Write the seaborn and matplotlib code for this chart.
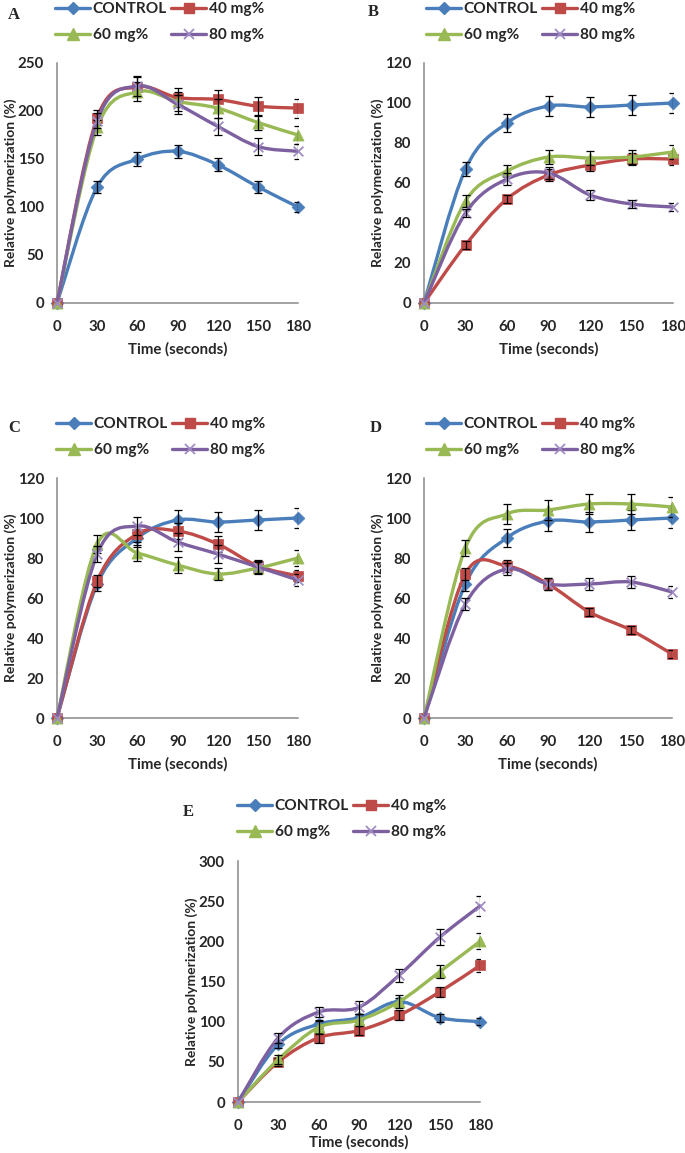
import numpy as np
import matplotlib
matplotlib.use("Agg")
import matplotlib.pyplot as plt
from matplotlib.path import Path
from matplotlib.patches import PathPatch
from matplotlib.lines import Line2D
import seaborn as sns

#------------------------------ data ------------------------------
times = [0, 30, 60, 90, 120, 150, 180]
series_names = ["CONTROL", "40 mg%", "60 mg%", "80 mg%"]

# panel A
A_ctrl = [0, 121, 150, 158, 144, 121, 100]
A_40 = [0, 193, 225, 214, 212, 205, 203]
A_60 = [0, 183, 220, 210, 203, 188, 175]
A_80 = [0, 190, 226, 207, 184, 163, 158]
A_ctrl_err = [0, 6, 7, 7, 7, 6, 5]
A_40_err = [0, 8, 10, 10, 10, 10, 10]
A_60_err = [0, 8, 10, 10, 10, 8, 9]
A_80_err = [0, 8, 10, 10, 9, 9, 8]

# panel B
B_ctrl = [0, 67, 90, 98.5, 98, 99, 100]
B_40 = [0, 29, 52, 64, 69, 72, 72]
B_60 = [0, 51, 66, 73, 72.5, 73, 75.5]
B_80 = [0, 45, 62, 65, 54, 49.5, 48]
B_ctrl_err = [0, 3.5, 4.5, 5, 5, 5, 5]
B_40_err = [0, 2, 2, 3, 3, 3, 3]
B_60_err = [0, 3, 3, 3.5, 3.5, 3.5, 3.5]
B_80_err = [0, 2, 3, 3, 2.5, 2, 2]

# panel C
C_ctrl = [0, 67, 90, 99, 98, 99, 100]
C_40 = [0, 68.5, 92, 93.5, 87, 76, 71]
C_60 = [0, 87, 82.5, 76.5, 72, 75, 80]
C_80 = [0, 82, 96, 88, 82, 75.5, 69]
C_ctrl_err = [0, 3.5, 4.5, 5, 5, 5, 5]
C_40_err = [0, 3, 4, 4, 4, 3, 3]
C_60_err = [0, 4.5, 4, 4, 3, 3, 4]
C_80_err = [0, 4, 4.5, 4.5, 4.5, 3, 3]

# panel D
D_ctrl = [0, 67, 90, 98.5, 98, 99, 100]
D_40 = [0, 72, 76, 67, 53, 44, 32]
D_60 = [0, 85, 102, 104, 107, 107, 105.5]
D_80 = [0, 57, 74.5, 67, 67, 68, 63]
D_ctrl_err = [0, 3.5, 4.5, 5, 5, 5, 5]
D_40_err = [0, 3, 3, 3, 2, 2, 2]
D_60_err = [0, 4, 5, 5, 5, 5, 5]
D_80_err = [0, 3, 3, 3, 3, 3, 3]

# panel E
E_ctrl = [0, 72, 97, 105, 125, 105, 100]
E_40 = [0, 50, 80, 89, 108, 137, 170]
E_60 = [0, 53, 93, 102, 125, 162, 200]
E_80 = [0, 80, 112, 118, 158, 205, 244]
E_ctrl_err = [0, 5, 5, 5, 5, 5, 4]
E_40_err = [0, 5, 6, 6, 6, 6, 8]
E_60_err = [0, 6, 8, 8, 8, 8, 10]
E_80_err = [0, 6, 6, 8, 8, 10, 12]

#------------------------------ style ------------------------------
sns.set_style("white")
plt.rcParams["font.family"] = ["Lato", "DejaVu Sans"]
plt.rcParams["font.weight"] = "bold"

colors = ["#4A7EBB", "#BE4B48", "#98B954", "#7D60A0"]
markers = ["D", "s", "^", "x"]
msizes = [6.5, 7.5, 8.0, 7.0]
axis_grey = "#898989"
FS = 10.8

W, H = 685, 1153
fig = plt.figure(figsize=(W / 100, H / 100), dpi=100)


def px_axes(x0, x1, ytop, ybot):
    return fig.add_axes([x0 / W, 1 - ybot / H, (x1 - x0) / W, (ybot - ytop) / H])


def smooth_path(x, y):
    # Excel style smoothed line: cubic Bezier through each point
    pts = np.column_stack([x, y]).astype(float)
    n = len(pts)
    verts = [pts[0]]
    codes = [Path.MOVETO]
    for i in range(n - 1):
        p0 = pts[max(i - 1, 0)]
        p1 = pts[i]
        p2 = pts[i + 1]
        p3 = pts[min(i + 2, n - 1)]
        verts += [p1 + (p2 - p0) / 6, p2 - (p3 - p1) / 6, p2]
        codes += [Path.CURVE4] * 3
    return Path(verts, codes)


panels = [
    dict(letter="A", box=(57, 298, 63, 303), ymax=250, ystep=50,
         vals=[A_ctrl, A_40, A_60, A_80], errs=[A_ctrl_err, A_40_err, A_60_err, A_80_err],
         leg=(55, 2), let_pos=(8, 15), xlpad=6),
    dict(letter="B", box=(424, 673, 63, 303), ymax=120, ystep=20,
         vals=[B_ctrl, B_40, B_60, B_80], errs=[B_ctrl_err, B_40_err, B_60_err, B_80_err],
         leg=(426, 2), let_pos=(368, 12), xlpad=6),
    dict(letter="C", box=(57, 298, 478, 718), ymax=120, ystep=20,
         vals=[C_ctrl, C_40, C_60, C_80], errs=[C_ctrl_err, C_40_err, C_60_err, C_80_err],
         leg=(56, 417), let_pos=(8, 428), xlpad=6),
    dict(letter="D", box=(424, 672, 478, 718), ymax=120, ystep=20,
         vals=[D_ctrl, D_40, D_60, D_80], errs=[D_ctrl_err, D_40_err, D_60_err, D_80_err],
         leg=(426, 417), let_pos=(370, 428), xlpad=6),
    dict(letter="E", box=(238, 480, 861, 1102), ymax=300, ystep=50,
         vals=[E_ctrl, E_40, E_60, E_80], errs=[E_ctrl_err, E_40_err, E_60_err, E_80_err],
         leg=(237, 799), let_pos=(183, 812), xlpad=2),
]

for p in panels:
    ax = px_axes(*p["box"])
    x0, x1 = p["box"][0], p["box"][1]
    for k, (vals, errs) in enumerate(zip(p["vals"], p["errs"])):
        z = 3 + k * 3
        ax.add_patch(PathPatch(smooth_path(times, vals), fill=False, edgecolor=colors[k],
                               lw=2.4, capstyle="round", joinstyle="round",
                               zorder=z, clip_on=False))
        if markers[k] == "x":
            sns.scatterplot(x=times, y=vals, ax=ax, marker="x", color="#A08CC4",
                            s=msizes[k] ** 2, linewidth=1.3, zorder=z + 1, clip_on=False)
        else:
            sns.scatterplot(x=times, y=vals, ax=ax, marker=markers[k], color=colors[k],
                            edgecolor=colors[k], s=msizes[k] ** 2, linewidth=0.5,
                            zorder=z + 1, clip_on=False)
        xe = [t for t, e in zip(times, errs) if e > 0]
        ye = [v for v, e in zip(vals, errs) if e > 0]
        ee = [e for e in errs if e > 0]
        ax.errorbar(xe, ye, yerr=ee, fmt="none", ecolor="black", elinewidth=0.9,
                    capsize=2.8, capthick=0.9, zorder=z + 2)

    ax.set_xlim(0, 180)
    ax.set_ylim(0, p["ymax"])
    ax.set_xticks(times)
    ax.set_yticks(np.arange(0, p["ymax"] + 1, p["ystep"]))
    for s in ["top", "right"]:
        ax.spines[s].set_visible(False)
    for s in ["left", "bottom"]:
        ax.spines[s].set_color(axis_grey)
        ax.spines[s].set_linewidth(1.1)
    ax.tick_params(axis="both", direction="out", length=3.5, width=1.0, color=axis_grey,
                   labelsize=FS)
    ax.tick_params(axis="x", pad=8.5)
    ax.tick_params(axis="y", pad=6)
    for lab in ax.get_xticklabels() + ax.get_yticklabels():
        lab.set_fontweight("bold")
    ax.set_xlabel("Time (seconds)", fontsize=FS, fontweight="bold", labelpad=p["xlpad"])
    ax.set_ylabel("Relative polymerization (%)", fontsize=10, fontweight="bold")
    ax.yaxis.set_label_coords(-40 / (x1 - x0), 0.5)

    handles = []
    for k in [0, 2, 1, 3]:
        if markers[k] == "x":
            h = Line2D([], [], color=colors[k], lw=2.4, marker="x", ms=msizes[k],
                       mec="#A08CC4", mew=1.3)
        else:
            h = Line2D([], [], color=colors[k], lw=2.4, marker=markers[k], ms=msizes[k],
                       mfc=colors[k], mec=colors[k])
        handles.append(h)
    labels = [series_names[k] for k in [0, 2, 1, 3]]
    lx, ly = p["leg"]
    ax.legend(handles, labels, loc="upper left", bbox_to_anchor=(lx / W, 1 - ly / H),
              bbox_transform=fig.transFigure, ncol=2, frameon=False, borderpad=0,
              borderaxespad=0, handlelength=2.3, handletextpad=0.15, columnspacing=0.25,
              labelspacing=0.8, prop=dict(size=FS + 0.3, weight="bold"))

    fig.text(p["let_pos"][0] / W, 1 - p["let_pos"][1] / H, p["letter"],
             family="Liberation Serif", fontweight="bold", fontsize=12, va="center")

fig.savefig("out.png", dpi=100)
